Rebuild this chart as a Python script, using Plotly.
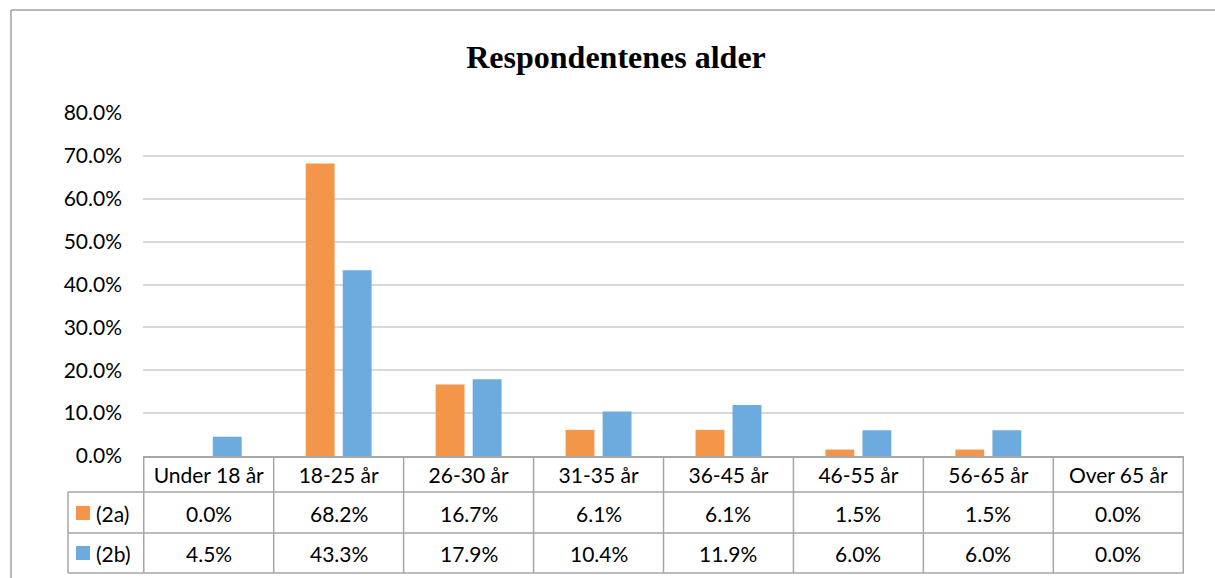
import plotly.graph_objects as go

categories = ["Under 18 år", "18-25 år", "26-30 år", "31-35 år",
              "36-45 år", "46-55 år", "56-65 år", "Over 65 år"]
series_names = ["(2a)", "(2b)"]
values_2a = [0.0, 68.2, 16.7, 6.1, 6.1, 1.5, 1.5, 0.0]
values_2b = [4.5, 43.3, 17.9, 10.4, 11.9, 6.0, 6.0, 0.0]
colors = ["#F4964A", "#6DAADD"]

W, H = 1215, 578
X0, X1, Y0, Y1 = 143, 1184, 113, 456   # plot area in px
L, R, T, B = X0, W - X1, Y0, H - Y1
PH = Y1 - Y0
PW = X1 - X0


def py(p):  # pixel row -> paper y
    return (Y1 - p) / PH


def px_(p):  # pixel column -> paper x
    return (p - X0) / PW


font = "Lato"
grid_c = "#d9d9d9"
line_c = "#a6a6a6"

fig = go.Figure()
for name, vals, c in zip(series_names, [values_2a, values_2b], colors):
    fig.add_trace(go.Bar(x=categories, y=vals, name=name, marker_color=c,
                         marker_line_width=0, showlegend=False))

shapes = []
# table horizontal lines
for p in [492, 533, 573]:
    shapes.append(dict(type="line", xref="paper", yref="paper",
                       x0=px_(68), x1=1, y0=py(p), y1=py(p),
                       line=dict(color=line_c, width=1.5)))
# vertical lines between categories
for i in range(len(categories) + 1):
    shapes.append(dict(type="line", xref="x", yref="paper",
                       x0=i - 0.5, x1=i - 0.5, y0=0, y1=py(573),
                       line=dict(color=line_c, width=1.5)))
# left edge of the legend column
shapes.append(dict(type="line", xref="paper", yref="paper",
                   x0=px_(68), x1=px_(68), y0=py(492), y1=py(573),
                   line=dict(color=line_c, width=1.5)))
# chart border (top and left edges are the only visible ones)
shapes.append(dict(type="line", xref="paper", yref="paper",
                   x0=px_(11), x1=px_(1215), y0=py(10), y1=py(10),
                   line=dict(color="#a0a0a0", width=1.5)))
shapes.append(dict(type="line", xref="paper", yref="paper",
                   x0=px_(11), x1=px_(11), y0=py(10), y1=py(578),
                   line=dict(color="#a0a0a0", width=1.5)))

annotations = []
row_centers = [513, 553]
for r, (name, vals, c) in enumerate(zip(series_names, [values_2a, values_2b], colors)):
    yc = py(row_centers[r])
    # legend key
    shapes.append(dict(type="rect", xref="paper", yref="paper",
                       x0=px_(76), x1=px_(90), y0=yc - 7 / PH, y1=yc + 7 / PH,
                       fillcolor=c, line_width=0))
    annotations.append(dict(text=name, xref="paper", yref="paper",
                            x=px_(94), y=yc, xanchor="left", yanchor="middle",
                            showarrow=False, font=dict(family=font, size=21, color="#000")))
    for cat, v in zip(categories, vals):
        annotations.append(dict(text=f"{v:.1f}%", xref="x", yref="paper",
                                x=cat, y=yc, xanchor="center", yanchor="middle",
                                showarrow=False, font=dict(family=font, size=21, color="#000")))

fig.update_layout(
    width=W, height=H,
    margin=dict(l=L, r=R, t=T, b=B),
    paper_bgcolor="white", plot_bgcolor="white",
    barmode="group", bargap=0.43, bargroupgap=0.22,
    title=dict(text="<b>Respondentenes alder</b>", x=616 / W,
               xanchor="center", y=1 - 57 / H, yanchor="middle",
               font=dict(family="Liberation Serif", size=32, color="#000")),
    font=dict(family=font, size=21, color="#000"),
    shapes=shapes, annotations=annotations,
)
fig.update_yaxes(range=[0, 80], dtick=10, tickformat=".1f", ticksuffix="%",
                 showgrid=True, gridcolor=grid_c, gridwidth=1.5,
                 zeroline=False, showline=False, ticks="",
                 ticklabelstandoff=20, tickfont=dict(family=font, size=21))
fig.update_xaxes(showline=True, linecolor=line_c, linewidth=1.5, ticks="",
                 ticklabelstandoff=0, tickfont=dict(family=font, size=21))

fig.write_html("out.html", config={"displayModeBar": False},
               post_script="document.body.style.margin='0';document.body.style.overflow='hidden';")
